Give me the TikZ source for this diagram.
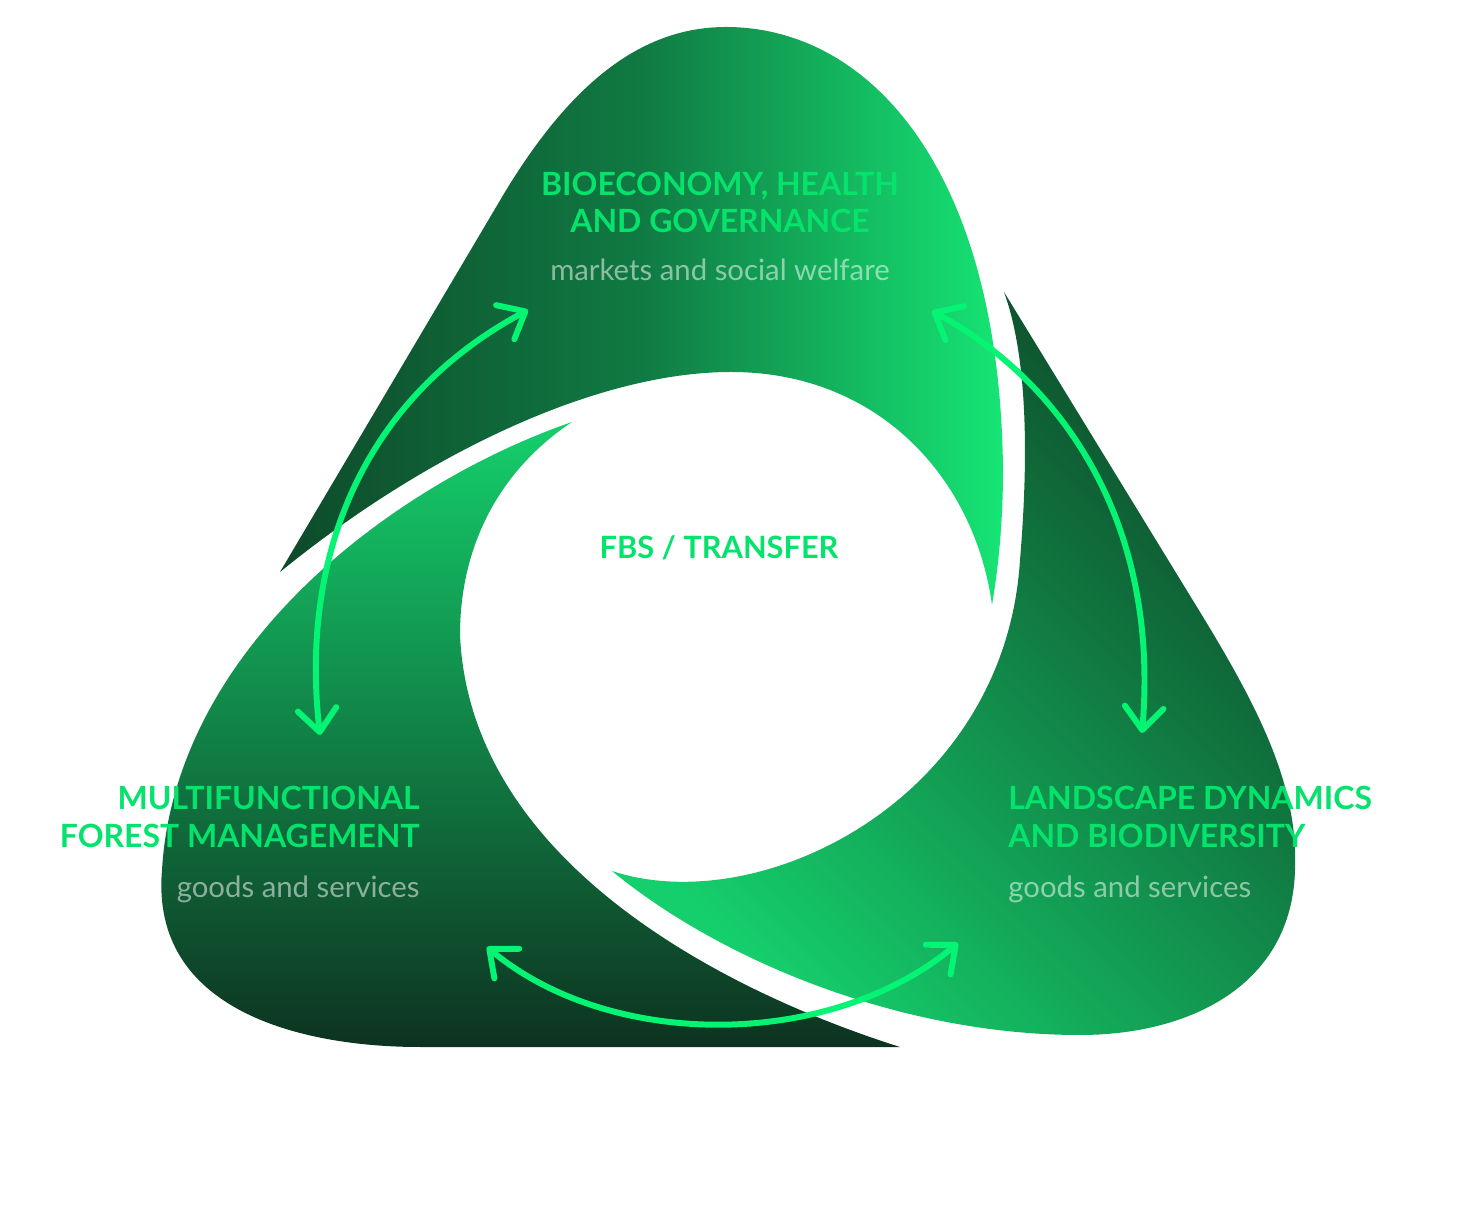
\documentclass[tikz,border=0pt]{standalone}
\usepackage{fontspec}
\setmainfont{Lato}
\usepackage{tikz}
\usetikzlibrary{arrows.meta}
\definecolor{fbsDark}{HTML}{0D3320}
\definecolor{fbsDeep}{HTML}{0E4A2A}
\definecolor{fbsHalf}{HTML}{107A43}
\definecolor{fbsMid}{HTML}{15CF6C}
\definecolor{fbsBright}{HTML}{16E574}
\definecolor{fbsArrow}{HTML}{05F474}
\definecolor{fbsTitle}{HTML}{05E36C}
\tikzset{
 fbs arrow/.style={line width=3.4pt,draw=fbsArrow,line cap=round,
   arrows={Straight Barb[length=13pt,width=22pt,round]-Straight Barb[length=13pt,width=22pt,round]}},
 fbs title/.style={font=\bfseries\fontsize{18.2}{21.3}\selectfont,text=fbsTitle,inner sep=0pt},
 fbs sub/.style={font=\fontsize{16.7}{20}\selectfont,text=white,text opacity=.52,inner sep=0pt}
}

\begin{document}
\begin{tikzpicture}[x=0.02cm,y=-0.02cm]
 \useasboundingbox (0,0) rectangle (1478,1222);
 % top blade
 \shade[left color=fbsDeep,right color=fbsBright,middle color=fbsHalf]
   (280,572) -- (505,192) .. controls (570,85) and (640,27) .. (726,27)
   .. controls (870,27) and (1000,170) .. (1003,470)
   .. controls (1003,530) and (997,575) .. (992,605)
   .. controls (975,480) and (880,372) .. (731,372)
   .. controls (600,372) and (430,450) .. cycle;
 % left blade
 \shade[top color=fbsMid,bottom color=fbsDark]
   (572,422) .. controls (390,485) and (175,650) .. (162,870)
   .. controls (150,1010) and (300,1047) .. (420,1047) -- (900,1047)
   .. controls (720,990) and (470,860) .. (460,635)
   .. controls (460,545) and (500,470) .. cycle;
 % right blade
 \shade[top color=fbsDeep,bottom color=fbsMid,shading angle=-45]
   (1004,292) -- (1200,612) .. controls (1265,718) and (1298,790) .. (1295,870)
   .. controls (1292,985) and (1190,1035) .. (1080,1035)
   .. controls (900,1035) and (720,960) .. (612,871)
   .. controls (760,920) and (1005,800) .. (1020,560)
   .. controls (1030,440) and (1025,350) .. cycle;

 % labels (base = last line)
 \node[fbs title,align=center,anchor=base] (bio) at (720,233)
   {BIOECONOMY, HEALTH\\AND\ GOVERNANCE};
 \node[fbs sub,anchor=base] (bioSub) at (720,281) {markets and social welfare};
 \node[fbs title,align=right,anchor=base east] (mff) at (420,847)
   {MULTIFUNCTIONAL\\FOREST MANAGEMENT};
 \node[fbs sub,anchor=base east] (mffSub) at (420,897) {goods and services};
 \node[fbs title,align=left,anchor=base west] (ldb) at (1008,847)
   {LANDSCAPE DYNAMICS\\AND BIODIVERSITY};
 \node[fbs sub,anchor=base west] (ldbSub) at (1008,897) {goods and services};
 \node[fbs title,font=\bfseries\fontsize{17.5}{21}\selectfont,anchor=base] (fbs)
   at (719,559) {FBS / TRANSFER};

 % arrows
 \coordinate (mffUp) at (320,735);  \coordinate (bioL) at (528,310);
 \coordinate (bioR) at (932,311);   \coordinate (ldbUp) at (1142,733);
 \coordinate (mffLo) at (487,947);  \coordinate (ldbLo) at (958,943);
 \draw[fbs arrow] (mffUp) .. controls (300,560) and (360,400) .. (bioL);
 \draw[fbs arrow] (bioR) .. controls (1060,380) and (1160,520) .. (ldbUp);
 \draw[fbs arrow] (mffLo) .. controls (610,1050) and (830,1050) .. (ldbLo);
\end{tikzpicture}
\end{document}
